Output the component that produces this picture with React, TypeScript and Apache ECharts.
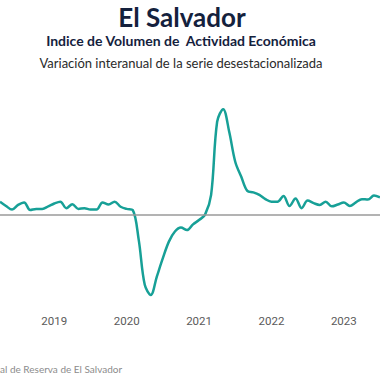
import React, { useEffect, useRef } from "react";
import * as echarts from "echarts";

const titleText = "El Salvador";
const subtitleText = "Indice de Volumen de  Actividad Económica";
const subtitle2Text = "Variación interanual de la serie desestacionalizada";
const sourceText = "al de Reserva de El Salvador";

const startYear = 2018;
const startMonth = 4; // April 2018
const values: number[] = [
  3.7, 2.5, 1.5, 2.8, 3.5, 1.4, 1.7, 1.7, 2.4, 3.2, 3.7, 1.9,
  3.0, 1.7, 1.9, 1.5, 1.5, 3.5, 2.9, 3.7, 2.3, 1.7, 1.4, -6.9,
  -19.4, -22.2, -17.1, -12.0, -7.4, -4.6, -3.5, -4.2, -2.6, -1.4, 0.1, 5.6,
  25.9, 29.4, 23.1, 14.8, 10.6, 6.7, 6.3, 5.6, 4.4, 3.7, 3.7, 5.3,
  2.5, 4.6, 1.9, 4.0, 3.3, 2.8, 3.7, 2.4, 2.9, 3.5, 2.5, 3.5,
  4.4, 4.3, 5.4, 4.9,
];

const categories: string[] = values.map((_, i) => {
  const m = startMonth - 1 + i;
  const y = startYear + Math.floor(m / 12);
  const mm = (m % 12) + 1;
  return `${y}-${mm < 10 ? "0" + mm : mm}`;
});

export default function App() {
  const ref = useRef<HTMLDivElement>(null);
  useEffect(() => {
    if (!ref.current) return;
    const chart = echarts.init(ref.current, undefined, { renderer: "svg" });
    chart.setOption({
      animation: false,
      backgroundColor: "#ffffff",
      grid: { left: 0, right: 0, top: 89, bottom: 75 },
      xAxis: {
        type: "category",
        data: categories,
        boundaryGap: false,
        axisLine: { show: false },
        axisTick: { show: false },
        splitLine: { show: false },
        axisLabel: {
          interval: (index: number, value: string) => value.endsWith("-01"),
          formatter: (value: string) => value.slice(0, 4),
          color: "#5a5a5a",
          fontSize: 11.5,
          fontFamily: "Roboto",
          margin: 10,
        },
      },
      yAxis: {
        type: "value",
        min: -25,
        max: 35,
        show: false,
        splitLine: { show: false },
      },
      series: [
        {
          type: "line",
          data: values,
          smooth: 0.35,
          showSymbol: false,
          symbol: "none",
          lineStyle: { color: "#17a097", width: 2.5 },
          markLine: {
            silent: true,
            symbol: "none",
            label: { show: false },
            lineStyle: { color: "#9a9a9a", width: 1.5, type: "solid" },
            data: [{ yAxis: 0 }],
          },
          z: 3,
        },
      ],
      graphic: [
        {
          type: "text",
          x: 182,
          y: 17,
          style: {
            text: titleText,
            fill: "#14213d",
            font: "bold 26px Lato",
            textAlign: "center",
            textVerticalAlign: "middle",
          },
        },
        {
          type: "text",
          x: 181,
          y: 40,
          style: {
            text: subtitleText,
            fill: "#14213d",
            font: "bold 14px Lato",
            textAlign: "center",
            textVerticalAlign: "middle",
          },
        },
        {
          type: "text",
          x: 181,
          y: 63,
          style: {
            text: subtitle2Text,
            fill: "#2a2a2a",
            font: "13px Lato",
            textAlign: "center",
            textVerticalAlign: "middle",
          },
        },
        {
          type: "text",
          x: 0,
          y: 369,
          style: {
            text: sourceText,
            fill: "#8c8c8c",
            font: "10px Lato",
            textAlign: "left",
            textVerticalAlign: "middle",
          },
        },
      ],
    });
    return () => chart.dispose();
  }, []);
  return (
    <div
      ref={ref}
      style={{ width: 380, height: 380, position: "fixed", left: 0, top: 0 }}
    />
  );
}
